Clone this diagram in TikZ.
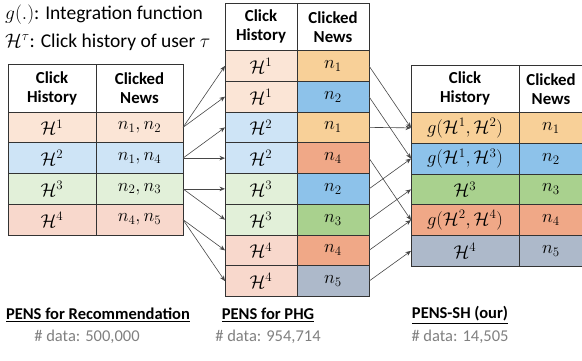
\RequirePackage{fix-cm}
\documentclass[tikz,border=0pt]{standalone}
\usepackage{fontspec}
\setmainfont{Carlito}
\usepackage{amsmath,amssymb}
\usetikzlibrary{positioning, arrows.meta}

\definecolor{peachL}{RGB}{251,229,214}
\definecolor{orangeD}{RGB}{248,208,152}
\definecolor{blueL}{RGB}{206,228,246}
\definecolor{blueD}{RGB}{141,194,234}
\definecolor{greenL}{RGB}{226,240,217}
\definecolor{greenD}{RGB}{169,209,142}
\definecolor{redL}{RGB}{248,216,204}
\definecolor{redD}{RGB}{240,168,135}
\definecolor{grayB}{RGB}{173,185,202}

\begin{document}
\begin{tikzpicture}[
    x=1pt, y=-1pt,
    node distance=0pt,
    cell/.style={draw=black!80, line width=0.6pt, outer sep=0pt, inner sep=0pt, minimum height=30.75pt, font=\fontsize{18.5}{20}\selectfont},
    head/.style={cell, fill=white, minimum height=47.5pt, align=center, font=\fontsize{16.8}{19}\selectfont\bfseries},
    lcol/.style={minimum width=88pt},
    lcolb/.style={minimum width=87pt},
    mcol/.style={minimum width=72pt},
    rcol/.style={minimum width=108pt},
    rcolb/.style={minimum width=64pt},
    arrow/.style={-{Stealth[length=5.5pt,width=4.5pt]}, draw=black!72, line width=0.6pt},
    legend/.style={anchor=west, inner sep=0pt, font=\fontsize{19.5}{22}\selectfont},
    title/.style={font=\fontsize{16.5}{18}\selectfont\bfseries},
    count/.style={font=\fontsize{16.5}{18}\selectfont, text=black!50}
]
\useasboundingbox (0,0) rectangle (582,360);

% Legend
\node[legend] (leg1) at (5,15) {$g(.)$: Integration function};
\node[legend] (leg2) at (5,42) {$\mathcal{H}^{\tau}$: Click history of user $\tau$};

% Left table: PENS for Recommendation
\node[head, lcol, anchor=north west] (lhist) at (8,64.5) {Click\\History};
\node[head, lcolb, right=of lhist] (lnews) {Clicked\\News};
\node[cell, lcol, fill=peachL, below=of lhist] (lh1) {$\mathcal{H}^1$};
\node[cell, lcolb, fill=peachL, right=of lh1] (ln1) {$n_1, n_2$};
\node[cell, lcol, fill=blueL, below=of lh1] (lh2) {$\mathcal{H}^2$};
\node[cell, lcolb, fill=blueL, right=of lh2] (ln2) {$n_1, n_4$};
\node[cell, lcol, fill=greenL, below=of lh2] (lh3) {$\mathcal{H}^3$};
\node[cell, lcolb, fill=greenL, right=of lh3] (ln3) {$n_2, n_3$};
\node[cell, lcol, fill=redL, below=of lh3] (lh4) {$\mathcal{H}^4$};
\node[cell, lcolb, fill=redL, right=of lh4] (ln4) {$n_4, n_5$};

% Middle table: PENS for PHG
\node[head, mcol, anchor=north west] (mhist) at (225,3) {Click\\History};
\node[head, mcol, right=of mhist] (mnews) {Clicked\\News};
\node[cell, mcol, fill=peachL, below=of mhist] (mh1) {$\mathcal{H}^1$};
\node[cell, mcol, fill=orangeD, right=of mh1] (mn1) {$n_1$};
\node[cell, mcol, fill=peachL, below=of mh1] (mh2) {$\mathcal{H}^1$};
\node[cell, mcol, fill=blueD, right=of mh2] (mn2) {$n_2$};
\node[cell, mcol, fill=blueL, below=of mh2] (mh3) {$\mathcal{H}^2$};
\node[cell, mcol, fill=orangeD, right=of mh3] (mn3) {$n_1$};
\node[cell, mcol, fill=blueL, below=of mh3] (mh4) {$\mathcal{H}^2$};
\node[cell, mcol, fill=redD, right=of mh4] (mn4) {$n_4$};
\node[cell, mcol, fill=greenL, below=of mh4] (mh5) {$\mathcal{H}^3$};
\node[cell, mcol, fill=blueD, right=of mh5] (mn5) {$n_2$};
\node[cell, mcol, fill=greenL, below=of mh5] (mh6) {$\mathcal{H}^3$};
\node[cell, mcol, fill=greenD, right=of mh6] (mn6) {$n_3$};
\node[cell, mcol, fill=redL, below=of mh6] (mh7) {$\mathcal{H}^4$};
\node[cell, mcol, fill=redD, right=of mh7] (mn7) {$n_4$};
\node[cell, mcol, fill=redL, below=of mh7] (mh8) {$\mathcal{H}^4$};
\node[cell, mcol, fill=grayB, right=of mh8] (mn8) {$n_5$};

% Right table: PENS-SH
\node[head, rcol, anchor=north west] (rhist) at (411,65) {Click\\History};
\node[head, rcolb, right=of rhist] (rnews) {Clicked\\News};
\node[cell, rcol, fill=orangeD, below=of rhist] (rh1) {$g(\mathcal{H}^1, \mathcal{H}^2)$};
\node[cell, rcolb, fill=orangeD, right=of rh1] (rn1) {$n_1$};
\node[cell, rcol, fill=blueD, below=of rh1] (rh2) {$g(\mathcal{H}^1, \mathcal{H}^3)$};
\node[cell, rcolb, fill=blueD, right=of rh2] (rn2) {$n_2$};
\node[cell, rcol, fill=greenD, below=of rh2] (rh3) {$\mathcal{H}^3$};
\node[cell, rcolb, fill=greenD, right=of rh3] (rn3) {$n_3$};
\node[cell, rcol, fill=redD, below=of rh3] (rh4) {$g(\mathcal{H}^2, \mathcal{H}^4)$};
\node[cell, rcolb, fill=redD, right=of rh4] (rn4) {$n_4$};
\node[cell, rcol, fill=grayB, below=of rh4] (rh5) {$\mathcal{H}^4$};
\node[cell, rcolb, fill=grayB, right=of rh5] (rn5) {$n_5$};

% Titles and data counts
\node[title] (ltitle) at (98,315) {\underline{PENS for Recommendation}};
\node[title] (mtitle) at (268,315) {\underline{PENS for PHG}};
\node[title] (rtitle) at (460,315) {\underline{PENS-SH (our)}};
\node[count] (lcount) at (87,337) {\# data: 500,000};
\node[count] (mcount) at (268,337) {\# data: 954,714};
\node[count] (rcount) at (460,337) {\# data: 14,505};

% Arrows - left to middle
\draw[arrow] (ln1.east) -- (mh1.west);
\draw[arrow] (ln1.east) -- (mh2.west);
\draw[arrow] (ln2.east) -- (mh3.west);
\draw[arrow] (ln2.east) -- (mh4.west);
\draw[arrow] (ln3.east) -- (mh5.west);
\draw[arrow] (ln3.east) -- (mh6.west);
\draw[arrow] (ln4.east) -- (mh7.west);
\draw[arrow] (ln4.east) -- (mh8.west);

% Arrows - middle to right
\draw[arrow] (mn1.east) -- (rh1.west);
\draw[arrow] (mn2.east) -- (rh2.west);
\draw[arrow] (mn3.east) -- (rh1.west);
\draw[arrow] (mn4.east) -- (rh4.west);
\draw[arrow] (mn5.east) -- (rh2.west);
\draw[arrow] (mn6.east) -- (rh3.west);
\draw[arrow] (mn7.east) -- (rh4.west);
\draw[arrow] (mn8.east) -- (rh5.west);

\end{tikzpicture}
\end{document}
